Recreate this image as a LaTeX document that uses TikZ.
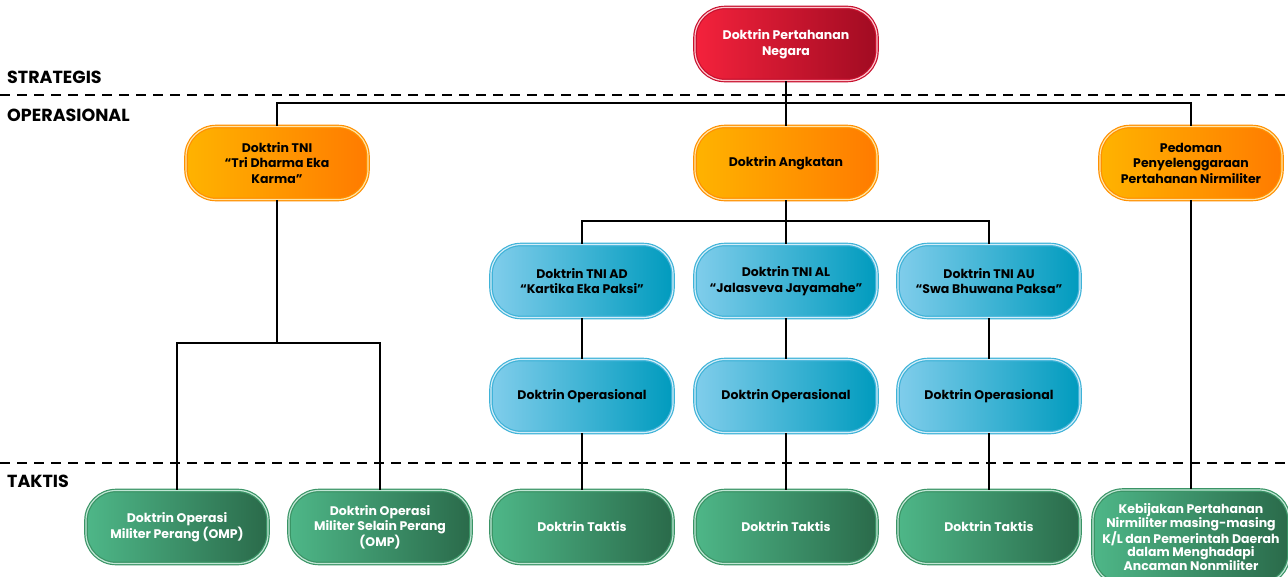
\documentclass[tikz,border=0pt]{standalone}
\usepackage{fontspec}
\setmainfont{Poppins}
\usetikzlibrary{positioning}

\definecolor{redL}{HTML}{F4223C}
\definecolor{redR}{HTML}{A10B22}
\definecolor{redB}{HTML}{C8102E}
\definecolor{orgL}{HTML}{FFB300}
\definecolor{orgR}{HTML}{FF7B00}
\definecolor{orgB}{HTML}{FF9000}
\definecolor{bluL}{HTML}{80CDEB}
\definecolor{bluR}{HTML}{009BBE}
\definecolor{bluB}{HTML}{3FB3D8}
\definecolor{grnL}{HTML}{4EB788}
\definecolor{grnR}{HTML}{2A6A4A}
\definecolor{grnB}{HTML}{3A9466}

\begin{document}
\begin{tikzpicture}[x=1pt,y=-1pt,
        box/.style={rectangle,rounded corners=30pt,minimum width=182pt,minimum height=73pt,
            align=center,font=\bfseries\fontsize{12.5}{15.5}\selectfont,
            line width=1.2pt,double distance=1.2pt},
        redbox/.style={box,left color=redL,right color=redR,draw=redB,double=white!75!redL,text=white},
        orgbox/.style={box,left color=orgL,right color=orgR,draw=orgB,double=white!65!orgL,text=black},
        blubox/.style={box,left color=bluL,right color=bluR,draw=bluB,double=white!65!bluL,text=black},
        grnbox/.style={box,left color=grnL,right color=grnR,draw=grnB,double=white!65!grnL,text=white},
        link/.style={line width=2pt,black},
        divider/.style={line width=2pt,black,dash pattern=on 10pt off 7pt},
        tier/.style={anchor=west,inner sep=0pt,font=\bfseries\fontsize{17.5}{20}\selectfont}]

    \useasboundingbox[fill=white] (0,0) rectangle (1288,576);

    \draw[divider] (0,95) -- (1288,95);
    \draw[divider] (0,463) -- (1288,463);
    \node[tier] (strat) at (7,77) {STRATEGIS};
    \node[tier] (opr) at (7,115) {OPERASIONAL};
    \node[tier] (takt) at (7,481) {TAKTIS};

    \node[redbox] (dpn) at (786,44) {Doktrin Pertahanan\\Negara};

    \node[orgbox] (tni) at (277,163) {Doktrin TNI\\“Tri Dharma Eka\\Karma”};
    \node[orgbox] (angkatan) at (786,163) {Doktrin Angkatan};
    \node[orgbox] (pnm) at (1191,163) {Pedoman\\Penyelenggaraan\\Pertahanan Nirmiliter};

    \node[blubox] (ad) at (582,281) {Doktrin TNI AD\\“Kartika Eka Paksi”};
    \node[blubox] (al) at (786,281) {Doktrin TNI AL\\“Jalasveva Jayamahe”};
    \node[blubox] (au) at (989,281) {Doktrin TNI AU\\“Swa Bhuwana Paksa”};
    \foreach \s/\x in {ad/582,al/786,au/989} {
        \node[blubox] (\s-op) at (\x,396) {Doktrin Operasional};
        \node[grnbox] (\s-tak) at (\x,527) {Doktrin Taktis};
    }

    \node[grnbox] (omp) at (177,527) {Doktrin Operasi\\Militer Perang (OMP)};
    \node[grnbox] (omsp) at (380,527) {Doktrin Operasi\\Militer Selain Perang\\(OMP)};
    \node[grnbox,minimum width=196pt,minimum height=94pt,
        font=\bfseries\fontsize{12.5}{12.8}\selectfont] (kb) at (1191,537)
        {Kebijakan Pertahanan\\Nirmiliter masing-masing\\K/L dan Pemerintah Daerah\\dalam Menghadapi\\Ancaman Nonmiliter};

    \coordinate (j1) at (786,103);
    \coordinate (j2) at (277,343);
    \coordinate (j3) at (786,221);

    \draw[link] (dpn.south) -- (j1) -- (angkatan.north);
    \draw[link] (tni.north) |- (j1);
    \draw[link] (pnm.north) |- (j1);

    \draw[link] (tni.south) -- (j2);
    \draw[link] (omp.north) |- (j2);
    \draw[link] (omsp.north) |- (j2);

    \draw[link] (angkatan.south) -- (j3) -- (al.north);
    \draw[link] (ad.north) |- (j3);
    \draw[link] (au.north) |- (j3);
    \foreach \s in {ad,al,au}
        \draw[link] (\s.south) -- (\s-op.north) (\s-op.south) -- (\s-tak.north);

    \draw[link] (pnm.south) -- (kb.north);
\end{tikzpicture}
\end{document}
